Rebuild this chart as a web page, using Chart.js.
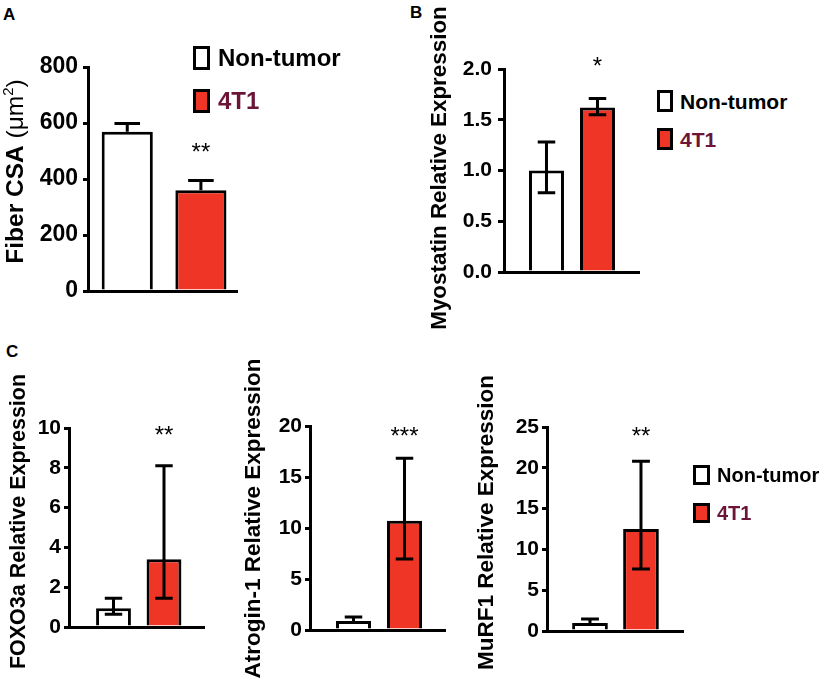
<!DOCTYPE html>
<html>
<head>
<meta charset="utf-8">
<script src="https://cdn.jsdelivr.net/npm/chart.js@4.4.1/dist/chart.umd.min.js"></script>
<style>
  body { margin: 0; width: 827px; height: 685px; overflow: hidden; background: #fff;
         font-family: "Liberation Sans", Arial, sans-serif; position: relative; }
  canvas { position: absolute; }
  .tag { position: absolute; font-weight: bold; font-size: 17px; line-height: 1; }
  .leg { position: absolute; display: flex; align-items: center; font-weight: bold; line-height: 1; z-index: 2; }
  .leg .box { display: inline-block; box-sizing: border-box; border: 3px solid #000; }
</style>
</head>
<body>
<div class="tag" style="left:3px; top:6px">A</div>
<div class="tag" style="left:410px; top:4px">B</div>
<div class="tag" style="left:6px; top:343px">C</div>

<canvas id="chartA" width="250" height="270" style="left:0px; top:40px"></canvas>
<canvas id="chartB" width="230" height="340" style="left:423px; top:0px"></canvas>
<canvas id="chartC1" width="215" height="335" style="left:3px; top:350px"></canvas>
<canvas id="chartC2" width="220" height="335" style="left:238px; top:350px"></canvas>
<canvas id="chartC3" width="225" height="335" style="left:470px; top:350px"></canvas>

<script>
const groups = ["Non-tumor", "4T1"];
const barColors = ["#ffffff", "#ee3526"];
const legendTextColors = ["#000000", "#6b1538"];

// A - fiber cross sectional area
const fiberMean = [569, 360];
const fiberUpper = [598, 395];
const fiberLower = [null, null];
const fiberStars = ["", "**"];
const fiberTicks = [0, 200, 400, 600, 800];

// B - myostatin
const myoMean = [1.0, 1.62];
const myoUpper = [1.28, 1.71];
const myoLower = [0.78, 1.55];
const myoStars = ["", "*"];
const myoTicks = [0, 0.5, 1.0, 1.5, 2.0];

// C - FOXO3a / Atrogin-1 / MuRF1
const foxoMean = [0.94, 3.41];
const foxoUpper = [1.45, 8.1];
const foxoLower = [0.64, 1.45];
const foxoStars = ["", "**"];
const foxoTicks = [0, 2, 4, 6, 8, 10];

const atroMean = [0.88, 10.7];
const atroUpper = [1.27, 16.85];
const atroLower = [null, 6.95];
const atroStars = ["", "***"];
const atroTicks = [0, 5, 10, 15, 20];

const murfMean = [0.98, 12.5];
const murfUpper = [1.47, 20.8];
const murfLower = [null, 7.6];
const murfStars = ["", "**"];
const murfTicks = [0, 5, 10, 15, 20, 25];

const FONT = "'Liberation Sans', Arial, sans-serif";
Chart.defaults.font.family = FONT;
Chart.defaults.color = "#000";

// error bars + significance stars, drawn from the bar elements and the y scale
const errorBars = {
    id: "errorBars",
    afterDatasetsDraw(chart, args, opts) {
        const ctx = chart.ctx;
        const y = chart.scales.y;
        const meta = chart.getDatasetMeta(0);
        ctx.save();
        ctx.strokeStyle = "#000";
        ctx.lineWidth = 3;
        meta.data.forEach((bar, i) => {
            const cap = bar.width / 4;
            const yTop = y.getPixelForValue(opts.upper[i]);
            const hasLow = opts.lower[i] != null;
            const yBot = hasLow ? y.getPixelForValue(opts.lower[i]) : bar.y;
            ctx.beginPath();
            ctx.moveTo(bar.x, yBot);
            ctx.lineTo(bar.x, yTop);
            ctx.moveTo(bar.x - cap, yTop);
            ctx.lineTo(bar.x + cap, yTop);
            if (hasLow) {
                ctx.moveTo(bar.x - cap, yBot);
                ctx.lineTo(bar.x + cap, yBot);
            }
            ctx.stroke();

            if (opts.stars[i]) {
                ctx.fillStyle = "#000";
                ctx.font = "24px " + FONT;
                ctx.textAlign = "center";
                ctx.textBaseline = "alphabetic";
                ctx.fillText(opts.stars[i], bar.x, y.getPixelForValue(opts.starAt));
            }
        });
        ctx.restore();
    }
};

// rotated y title, allows mixed weights (panel A)
const sideTitle = {
    id: "sideTitle",
    afterDraw(chart, args, opts) {
        if (!opts.parts) return;
        const ctx = chart.ctx;
        ctx.save();
        ctx.translate(opts.x, opts.y);
        ctx.rotate(-Math.PI / 2);
        ctx.fillStyle = "#000";
        ctx.textBaseline = "alphabetic";
        let total = 0;
        const widths = opts.parts.map(p => {
            ctx.font = p.font;
            const w = ctx.measureText(p.text).width;
            total += w;
            return w;
        });
        let x = -total / 2;
        opts.parts.forEach((p, i) => {
            ctx.font = p.font;
            ctx.fillText(p.text, x, p.dy || 0);
            x += widths[i];
        });
        ctx.restore();
    }
};

function makePanel(id, p) {
    const last = p.ticks[p.ticks.length - 1];
    return new Chart(document.getElementById(id), {
        type: "bar",
        data: {
            datasets: [{
                data: p.mean.map((v, i) => ({ x: i + 1, y: v })),
                backgroundColor: barColors,
                borderColor: "#000",
                borderWidth: 3,
                borderSkipped: "start",
                barPercentage: p.barPct,
                categoryPercentage: 1
            }]
        },
        options: {
            responsive: false,
            animation: false,
            events: [],
            layout: { padding: p.pad },
            scales: {
                x: {
                    type: "linear",
                    offset: false,
                    min: p.xMin,
                    max: p.xMax,
                    ticks: { display: false },
                    grid: { display: false },
                    border: { display: true, color: "#000", width: 3 },
                    afterFit: s => { s.height = 4; }
                },
                y: {
                    min: 0,
                    max: last,
                    afterBuildTicks: s => { s.ticks = p.ticks.map(v => ({ value: v })); },
                    afterFit: s => { s.width = p.yWidth; },
                    grid: {
                        drawOnChartArea: false,
                        drawTicks: true,
                        tickLength: p.tickLen,
                        tickWidth: 3,
                        tickColor: "#000",
                        lineWidth: 3,
                        color: "#000"
                    },
                    border: { display: true, color: "#000", width: 3 },
                    ticks: {
                        padding: p.tickPad,
                        font: { size: p.tickSize, weight: "bold" },
                        color: "#000",
                        callback: v => v.toFixed(p.decimals)
                    }
                }
            },
            plugins: {
                legend: { display: false },
                tooltip: { enabled: false },
                errorBars: { upper: p.upper, lower: p.lower, stars: p.stars, starAt: p.starAt },
                sideTitle: p.title
            }
        },
        plugins: [errorBars, sideTitle]
    });
}

const boldTitle = (text, size, x, y) => ({ x, y, parts: [{ text, font: "bold " + size + "px " + FONT }] });

makePanel("chartA", {
    mean: fiberMean, upper: fiberUpper, lower: fiberLower, stars: fiberStars, starAt: 468,
    ticks: fiberTicks, decimals: 0, tickSize: 23, tickLen: 5, tickPad: 5,
    xMin: 0.467, xMax: 2.49, barPct: 0.694, yWidth: 88,
    pad: { top: 27, left: 0, right: 13, bottom: 15 },
    title: {
        x: 23, y: 131.5,
        parts: [
            { text: "Fiber CSA ", font: "bold 24.5px " + FONT },
            { text: "(\u03bcm", font: "24.5px " + FONT },
            { text: "2", font: "15px " + FONT, dy: -10 },
            { text: ")", font: "24.5px " + FONT }
        ]
    }
});

makePanel("chartB", {
    mean: myoMean, upper: myoUpper, lower: myoLower, stars: myoStars, starAt: 1.955,
    ticks: myoTicks, decimals: 1, tickSize: 21, tickLen: 6, tickPad: 6,
    xMin: 0.167, xMax: 2.814, barPct: 0.686, yWidth: 81,
    pad: { top: 69, left: 0, right: 14, bottom: 64 },
    title: boldTitle("Myostatin Relative Expression", 22.4, 23, 168)
});

makePanel("chartC1", {
    mean: foxoMean, upper: foxoUpper, lower: foxoLower, stars: foxoStars, starAt: 9.24,
    ticks: foxoTicks, decimals: 0, tickSize: 21, tickLen: 5, tickPad: 3,
    xMin: 0.119, xMax: 2.792, barPct: 0.69, yWidth: 66,
    pad: { top: 78, left: 0, right: 14, bottom: 54 },
    title: boldTitle("FOXO3a Relative Expression", 21.5, 22, 171.5)
});

makePanel("chartC2", {
    mean: atroMean, upper: atroUpper, lower: atroLower, stars: atroStars, starAt: 18.26,
    ticks: atroTicks, decimals: 0, tickSize: 21, tickLen: 5, tickPad: 3,
    xMin: 0.147, xMax: 2.794, barPct: 0.686, yWidth: 72,
    pad: { top: 76, left: 0, right: 13, bottom: 51 },
    title: boldTitle("Atrogin-1 Relative Expression", 22.5, 22, 168.5)
});

makePanel("chartC3", {
    mean: murfMean, upper: murfUpper, lower: murfLower, stars: murfStars, starAt: 22.94,
    ticks: murfTicks, decimals: 0, tickSize: 21, tickLen: 5, tickPad: 3,
    xMin: 0.157, xMax: 2.824, barPct: 0.7, yWidth: 77,
    pad: { top: 77, left: 0, right: 12, bottom: 50 },
    title: boldTitle("MuRF1 Relative Expression", 22.5, 23, 172.5)
});

function addLegend(left, top, boxW, boxH, rowGap, size, textGap) {
    groups.forEach((g, i) => {
        const row = document.createElement("div");
        row.className = "leg";
        row.style.left = left + "px";
        row.style.top = (top + i * rowGap) + "px";
        row.style.height = boxH + "px";
        const box = document.createElement("span");
        box.className = "box";
        box.style.width = boxW + "px";
        box.style.height = boxH + "px";
        box.style.background = barColors[i];
        box.style.marginRight = textGap + "px";
        const txt = document.createElement("span");
        txt.textContent = g;
        txt.style.fontSize = size + "px";
        txt.style.color = legendTextColors[i];
        row.appendChild(box);
        row.appendChild(txt);
        document.body.appendChild(row);
    });
}

addLegend(193, 46, 17, 24, 43, 24, 8);
addLegend(657, 90, 16, 22, 38, 21, 7);
addLegend(693, 465, 17, 20, 38, 20, 7);
</script>
</body>
</html>
